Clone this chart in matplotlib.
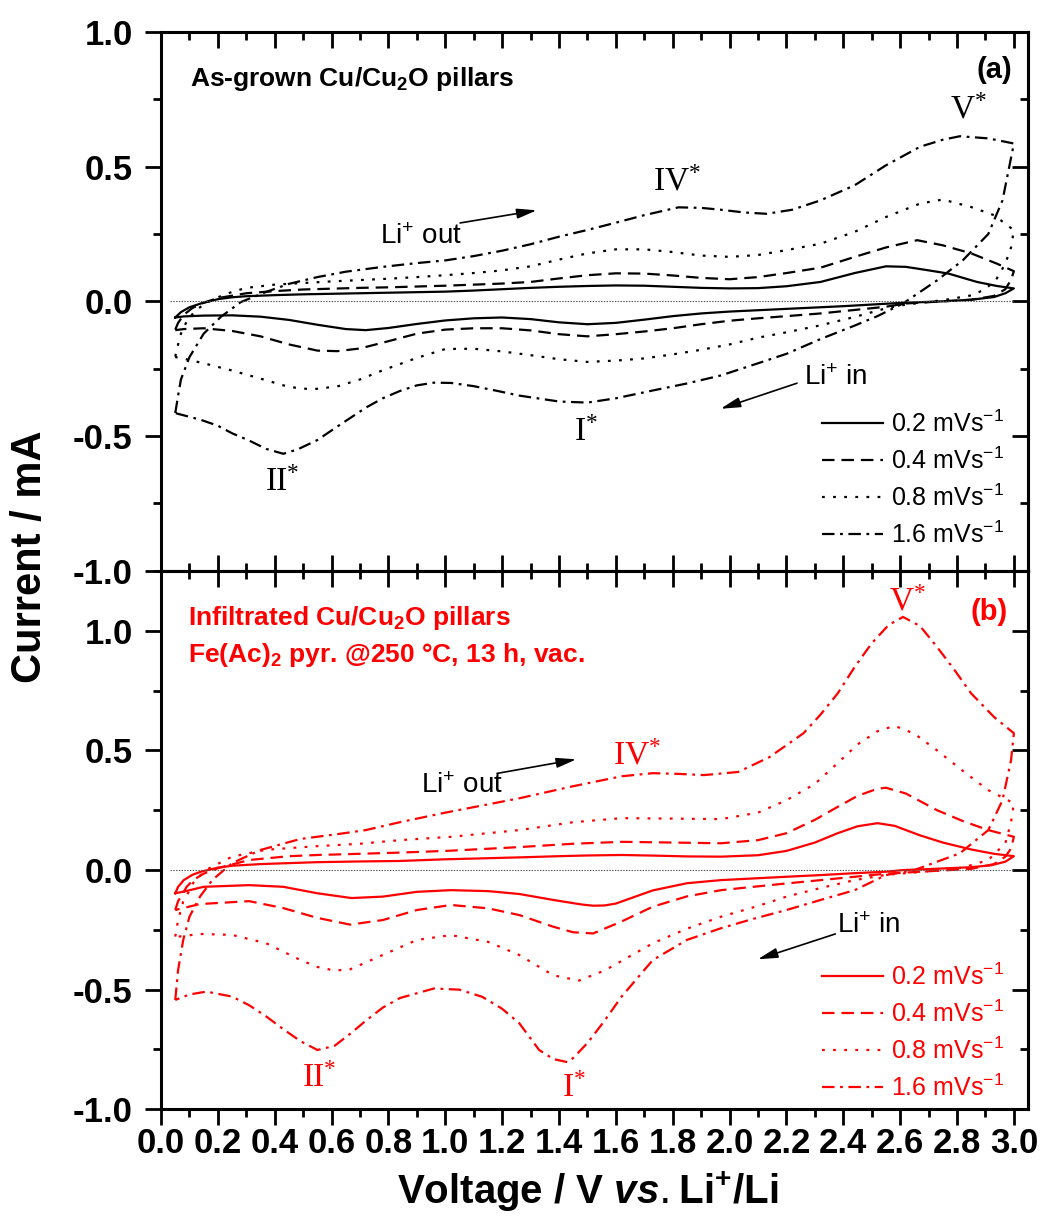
import matplotlib
matplotlib.use("Agg")
import matplotlib.pyplot as plt
from matplotlib.ticker import MultipleLocator

# Cyclic voltammograms, current in mA against voltage in V vs. Li+/Li.
# Every loop runs 0.05 V -> 3.0 V (Li+ out) and back to 0.05 V (Li+ in).
scan_rates = ["0.2", "0.4", "0.8", "1.6"]

# (a) as-grown Cu/Cu2O pillars
a02_v = [0.05, 0.07, 0.10, 0.14, 0.20, 0.25, 0.30, 0.40, 0.50, 0.60, 0.70, 0.80, 0.90, 1.00, 1.10, 1.20,
         1.30, 1.40, 1.50, 1.60, 1.70, 1.80, 1.90, 2.00, 2.10, 2.20, 2.32, 2.44, 2.55, 2.62, 2.70, 2.77,
         2.87, 2.94, 3.00,
         2.97, 2.93, 2.85, 2.75, 2.60, 2.50, 2.40, 2.30, 2.20, 2.10, 2.00, 1.90, 1.80, 1.70, 1.60, 1.50,
         1.40, 1.30, 1.20, 1.10, 1.00, 0.90, 0.80, 0.72, 0.65, 0.55, 0.45, 0.35, 0.25, 0.15, 0.08, 0.05]
a02_i = [-0.060, -0.040, -0.022, -0.008, 0.008, 0.015, 0.019, 0.023, 0.026, 0.028, 0.030, 0.032, 0.034,
         0.036, 0.040, 0.045, 0.050, 0.054, 0.057, 0.059, 0.058, 0.054, 0.050, 0.048, 0.049, 0.056, 0.072,
         0.105, 0.130, 0.128, 0.115, 0.103, 0.072, 0.057, 0.048,
         0.030, 0.016, 0.006, 0.000, -0.006, -0.012, -0.018, -0.023, -0.028, -0.033, -0.038, -0.045, -0.055,
         -0.068, -0.080, -0.085, -0.078, -0.066, -0.060, -0.063, -0.071, -0.084, -0.099, -0.107, -0.103,
         -0.087, -0.069, -0.057, -0.052, -0.053, -0.056, -0.060]

a04_v = [0.05, 0.06, 0.08, 0.11, 0.15, 0.20, 0.30, 0.40, 0.50, 0.60, 0.70, 0.80, 0.90, 1.00, 1.10, 1.20,
         1.30, 1.40, 1.50, 1.60, 1.70, 1.80, 1.90, 2.00, 2.10, 2.20, 2.32, 2.44, 2.55, 2.66, 2.75, 2.85,
         2.94, 3.00,
         2.99, 2.97, 2.93, 2.85, 2.75, 2.62, 2.55, 2.44, 2.32, 2.20, 2.10, 2.00, 1.90, 1.80, 1.70, 1.60,
         1.50, 1.40, 1.30, 1.20, 1.10, 1.00, 0.90, 0.80, 0.70, 0.62, 0.55, 0.45, 0.35, 0.25, 0.15, 0.08, 0.05]
a04_i = [-0.105, -0.080, -0.050, -0.025, -0.005, 0.012, 0.030, 0.038, 0.044, 0.047, 0.050, 0.052, 0.055,
         0.058, 0.062, 0.066, 0.072, 0.085, 0.097, 0.104, 0.103, 0.096, 0.087, 0.082, 0.090, 0.105, 0.125,
         0.165, 0.200, 0.227, 0.208, 0.178, 0.140, 0.112,
         0.080, 0.045, 0.020, 0.006, 0.000, -0.008, -0.020, -0.032, -0.045, -0.055, -0.063, -0.072, -0.085,
         -0.100, -0.112, -0.122, -0.130, -0.122, -0.108, -0.100, -0.100, -0.105, -0.120, -0.148, -0.175,
         -0.185, -0.183, -0.160, -0.130, -0.110, -0.100, -0.103, -0.107]

a08_v = [0.05, 0.06, 0.07, 0.09, 0.12, 0.16, 0.20, 0.25, 0.30, 0.40, 0.50, 0.60, 0.70, 0.80, 0.90, 1.00,
         1.10, 1.20, 1.30, 1.40, 1.50, 1.60, 1.70, 1.80, 1.90, 2.00, 2.10, 2.20, 2.32, 2.44, 2.55, 2.67,
         2.75, 2.85, 2.93, 3.00,
         2.99, 2.97, 2.94, 2.90, 2.85, 2.75, 2.62, 2.55, 2.44, 2.32, 2.20, 2.10, 2.00, 1.90, 1.80, 1.70,
         1.60, 1.50, 1.40, 1.30, 1.20, 1.10, 1.00, 0.90, 0.78, 0.70, 0.62, 0.53, 0.45, 0.35, 0.25, 0.15,
         0.08, 0.05]
a08_i = [-0.205, -0.160, -0.120, -0.075, -0.035, -0.005, 0.015, 0.035, 0.050, 0.062, 0.068, 0.074, 0.079,
         0.084, 0.090, 0.097, 0.105, 0.115, 0.130, 0.155, 0.178, 0.193, 0.193, 0.183, 0.170, 0.165, 0.172,
         0.190, 0.214, 0.258, 0.313, 0.363, 0.378, 0.350, 0.320, 0.264,
         0.200, 0.140, 0.085, 0.045, 0.022, 0.004, -0.012, -0.026, -0.058, -0.089, -0.115, -0.135, -0.160,
         -0.180, -0.197, -0.212, -0.220, -0.225, -0.215, -0.200, -0.186, -0.176, -0.177, -0.210, -0.256,
         -0.290, -0.316, -0.327, -0.318, -0.287, -0.257, -0.230, -0.213, -0.207]

a16_v = [0.05, 0.06, 0.07, 0.10, 0.15, 0.21, 0.28, 0.37, 0.45, 0.55, 0.65, 0.78, 0.90, 1.00, 1.10, 1.20,
         1.30, 1.40, 1.50, 1.60, 1.70, 1.82, 1.90, 1.97, 2.05, 2.13, 2.22, 2.32, 2.44, 2.55, 2.67, 2.75,
         2.81, 2.91, 3.00,
         2.98, 2.96, 2.91, 2.82, 2.73, 2.61, 2.52, 2.44, 2.32, 2.20, 2.10, 1.97, 1.85, 1.73, 1.60, 1.50,
         1.40, 1.26, 1.18, 1.10, 1.02, 0.96, 0.90, 0.84, 0.78, 0.72, 0.67, 0.62, 0.55, 0.48, 0.43, 0.37,
         0.31, 0.25, 0.20, 0.14, 0.05]
a16_i = [-0.415, -0.350, -0.290, -0.207, -0.120, -0.058, -0.003, 0.035, 0.065, 0.090, 0.110, 0.128, 0.142,
         0.152, 0.168, 0.188, 0.212, 0.240, 0.265, 0.292, 0.320, 0.349, 0.347, 0.340, 0.330, 0.325, 0.340,
         0.375, 0.431, 0.505, 0.574, 0.600, 0.613, 0.605, 0.586,
         0.480, 0.375, 0.250, 0.152, 0.078, -0.008, -0.055, -0.090, -0.140, -0.195, -0.230, -0.275, -0.305,
         -0.331, -0.360, -0.376, -0.372, -0.350, -0.332, -0.315, -0.303, -0.302, -0.312, -0.333, -0.360,
         -0.395, -0.430, -0.465, -0.515, -0.550, -0.566, -0.548, -0.517, -0.490, -0.462, -0.440, -0.415]

# (b) infiltrated pillars, Fe(Ac)2 pyrolysed
b02_v = [0.05, 0.06, 0.08, 0.11, 0.14, 0.20, 0.25, 0.35, 0.55, 0.70, 0.84, 1.00, 1.10, 1.26, 1.40, 1.50,
         1.62, 1.75, 1.85, 1.97, 2.10, 2.20, 2.30, 2.38, 2.45, 2.52, 2.58, 2.67, 2.75, 2.85, 2.93, 3.00,
         2.97, 2.92, 2.85, 2.70, 2.61, 2.55, 2.44, 2.32, 2.20, 2.10, 1.97, 1.85, 1.73, 1.64, 1.60, 1.56,
         1.52, 1.48, 1.38, 1.26, 1.15, 1.02, 0.90, 0.78, 0.67, 0.55, 0.43, 0.31, 0.15, 0.08, 0.05]
b02_i = [-0.097, -0.070, -0.042, -0.020, -0.007, 0.010, 0.018, 0.025, 0.033, 0.036, 0.038, 0.045, 0.048,
         0.053, 0.058, 0.061, 0.063, 0.060, 0.057, 0.056, 0.062, 0.080, 0.115, 0.154, 0.183, 0.196, 0.185,
         0.145, 0.115, 0.086, 0.068, 0.058,
         0.035, 0.020, 0.012, 0.004, 0.000, -0.007, -0.013, -0.021, -0.028, -0.034, -0.042, -0.055, -0.085,
         -0.123, -0.140, -0.148, -0.149, -0.144, -0.125, -0.100, -0.088, -0.084, -0.091, -0.111, -0.117,
         -0.097, -0.070, -0.063, -0.070, -0.090, -0.097]

b04_v = [0.05, 0.06, 0.074, 0.09, 0.113, 0.15, 0.20, 0.31, 0.45, 0.55, 0.70, 0.84, 1.02, 1.26, 1.45, 1.62,
         1.80, 1.97, 2.10, 2.20, 2.30, 2.38, 2.45, 2.52, 2.55, 2.62, 2.73, 2.82, 2.91, 3.00,
         2.99, 2.97, 2.93, 2.85, 2.70, 2.55, 2.44, 2.32, 2.20, 2.10, 1.97, 1.85, 1.73, 1.62, 1.52, 1.45,
         1.38, 1.26, 1.15, 1.02, 0.90, 0.78, 0.665, 0.55, 0.43, 0.31, 0.137, 0.05]
b04_i = [-0.167, -0.130, -0.104, -0.070, -0.042, -0.015, 0.008, 0.042, 0.058, 0.063, 0.068, 0.073, 0.081,
         0.096, 0.110, 0.118, 0.115, 0.112, 0.125, 0.154, 0.210, 0.264, 0.310, 0.340, 0.344, 0.320, 0.250,
         0.205, 0.167, 0.139,
         0.090, 0.056, 0.025, 0.005, -0.005, -0.015, -0.028, -0.042, -0.056, -0.068, -0.084, -0.110, -0.153,
         -0.215, -0.265, -0.260, -0.237, -0.188, -0.160, -0.146, -0.167, -0.209, -0.228, -0.200, -0.159,
         -0.130, -0.142, -0.167]

b08_v = [0.05, 0.06, 0.078, 0.10, 0.113, 0.14, 0.17, 0.25, 0.37, 0.55, 0.70, 0.84, 1.02, 1.26, 1.45, 1.62,
         1.80, 1.97, 2.10, 2.20, 2.30, 2.38, 2.45, 2.52, 2.58, 2.65, 2.73, 2.82, 2.91, 3.00,
         2.99, 2.97, 2.91, 2.82, 2.70, 2.55, 2.44, 2.32, 2.20, 2.10, 1.97, 1.85, 1.73, 1.62, 1.56, 1.47,
         1.38, 1.26, 1.15, 1.02, 0.90, 0.78, 0.665, 0.61, 0.55, 0.49, 0.37, 0.25, 0.137, 0.05]
b08_i = [-0.278, -0.209, -0.132, -0.085, -0.054, -0.020, 0.008, 0.056, 0.085, 0.100, 0.110, 0.125, 0.139,
         0.167, 0.200, 0.217, 0.215, 0.213, 0.240, 0.292, 0.360, 0.447, 0.525, 0.580, 0.603, 0.570, 0.500,
         0.415, 0.334, 0.279,
         0.200, 0.112, 0.042, 0.010, -0.005, -0.020, -0.042, -0.075, -0.111, -0.150, -0.195, -0.245, -0.306,
         -0.380, -0.420, -0.462, -0.440, -0.355, -0.300, -0.272, -0.292, -0.355, -0.415, -0.420, -0.405,
         -0.376, -0.306, -0.271, -0.267, -0.280]

b16_v = [0.05, 0.06, 0.078, 0.10, 0.137, 0.18, 0.25, 0.35, 0.49, 0.62, 0.72, 0.84, 1.00, 1.13, 1.26, 1.44,
         1.62, 1.73, 1.82, 1.91, 2.03, 2.14, 2.26, 2.32, 2.38, 2.44, 2.50, 2.56, 2.61, 2.67, 2.73, 2.79,
         2.85, 2.93, 3.00,
         2.99, 2.96, 2.91, 2.81, 2.65, 2.55, 2.44, 2.32, 2.20, 2.08, 1.97, 1.85, 1.73, 1.62, 1.56, 1.50,
         1.45, 1.43, 1.38, 1.33, 1.26, 1.20, 1.13, 1.05, 0.96, 0.84, 0.78, 0.72, 0.67, 0.61, 0.55, 0.49,
         0.43, 0.37, 0.31, 0.25, 0.16, 0.10, 0.05]
b16_i = [-0.543, -0.418, -0.292, -0.195, -0.111, -0.042, 0.029, 0.084, 0.130, 0.150, 0.167, 0.200, 0.240,
         0.270, 0.300, 0.348, 0.392, 0.405, 0.402, 0.397, 0.410, 0.472, 0.572, 0.650, 0.738, 0.849, 0.948,
         1.025, 1.058, 1.020, 0.932, 0.838, 0.738, 0.640, 0.572,
         0.459, 0.292, 0.167, 0.070, 0.000, -0.021, -0.084, -0.125, -0.167, -0.205, -0.243, -0.292, -0.376,
         -0.529, -0.630, -0.723, -0.785, -0.803, -0.790, -0.752, -0.640, -0.580, -0.530, -0.500, -0.495,
         -0.535, -0.575, -0.630, -0.680, -0.735, -0.752, -0.715, -0.665, -0.612, -0.565, -0.529, -0.508,
         -0.520, -0.543]

zero_v = [0.03, 3.0]
zero_i = [0.0, 0.0]

x_ticks = [0.0, 0.2, 0.4, 0.6, 0.8, 1.0, 1.2, 1.4, 1.6, 1.8, 2.0, 2.2, 2.4, 2.6, 2.8, 3.0]
x_tick_labels = ["0.0", "0.2", "0.4", "0.6", "0.8", "1.0", "1.2", "1.4", "1.6", "1.8",
                 "2.0", "2.2", "2.4", "2.6", "2.8", "3.0"]
y_ticks = [-1.0, -0.5, 0.0, 0.5, 1.0]
y_tick_labels = ["-1.0", "-0.5", "0.0", "0.5", "1.0"]

plt.rcParams['font.family'] = ['Liberation Sans', 'DejaVu Sans']
plt.rcParams['mathtext.fontset'] = 'custom'
plt.rcParams['mathtext.it'] = 'Liberation Sans:italic:bold'
plt.rcParams['mathtext.default'] = 'regular'
plt.rcParams['lines.scale_dashes'] = False
plt.rcParams['axes.unicode_minus'] = False

line_styles = ['-', (0, (9, 5)), (0, (2, 6)), (0, (9, 4, 2, 4))]
RED = '#ff0000'


def style_axes(ax, ylim, label_x):
    ax.set_xlim(0, 3.05)
    ax.set_ylim(*ylim)
    for sp in ax.spines.values():
        sp.set_linewidth(2.2)
    ax.set_yticks(y_ticks, labels=y_tick_labels, fontsize=25, fontweight='bold')
    ax.yaxis.set_minor_locator(MultipleLocator(0.25))
    ax.xaxis.set_minor_locator(MultipleLocator(0.1))
    ax.tick_params(axis='y', which='both', direction='out', left=True, right=False, width=2, pad=9)
    ax.tick_params(axis='y', which='major', length=11.5)
    ax.tick_params(axis='y', which='minor', length=6)
    sec = ax.secondary_yaxis('right')
    sec.set_yticks(y_ticks)
    sec.yaxis.set_minor_locator(MultipleLocator(0.25))
    sec.tick_params(axis='y', which='both', direction='in', width=2, labelright=False)
    sec.tick_params(axis='y', which='major', length=11.5)
    sec.tick_params(axis='y', which='minor', length=6)
    sec.spines['right'].set_linewidth(2.2)
    if label_x:
        ax.set_xticks(x_ticks, labels=x_tick_labels, fontsize=25, fontweight='bold')
        ax.tick_params(axis='x', which='both', direction='out', top=False, bottom=True, width=2, pad=1)
        secx = ax.secondary_xaxis('top')
        secx.set_xticks(x_ticks)
        secx.xaxis.set_minor_locator(MultipleLocator(0.1))
        secx.tick_params(axis='x', which='both', direction='in', width=2, labeltop=False)
        secx.tick_params(axis='x', which='major', length=11.5)
        secx.tick_params(axis='x', which='minor', length=6)
        secx.spines['top'].set_linewidth(2.2)
    else:
        ax.set_xticks(x_ticks)
        ax.tick_params(axis='x', which='both', direction='in', top=True, bottom=True,
                       labelbottom=False, width=2)
    ax.tick_params(axis='x', which='major', length=11.5)
    ax.tick_params(axis='x', which='minor', length=6)


def draw_loops(ax, loops, color):
    handles = []
    for (v, i), ls, rate in zip(loops, line_styles, scan_rates):
        h, = ax.plot(v, i, color=color, linestyle=ls, lw=1.6, label=rate + " mVs$^{-1}$")
        handles.append(h)
    ax.plot(zero_v, zero_i, color='#555555', lw=0.8, linestyle=(0, (1, 1)))
    return handles


def arrow(ax, tail, head):
    ax.annotate("", xy=head, xytext=tail,
                arrowprops=dict(arrowstyle="-|>,head_length=0.6,head_width=0.15", color='black',
                                lw=1.2, mutation_scale=20, shrinkA=0, shrinkB=0))


fig = plt.figure(figsize=(10.41, 12.17), dpi=100)
ax_a = fig.add_axes([0.1547, 0.5311, 0.8329, 0.4426])
ax_b = fig.add_axes([0.1547, 0.0885, 0.8329, 0.4423])

style_axes(ax_a, (-1.0, 1.0), label_x=False)
style_axes(ax_b, (-1.0, 1.25), label_x=True)

legend_kw = dict(loc='center left', frameon=False, prop={'size': 18}, handlelength=2.45,
                 handletextpad=0.3, labelspacing=0.42, borderpad=0, borderaxespad=0)

# --- panel (a) ---
h_a = draw_loops(ax_a, [(a02_v, a02_i), (a04_v, a04_i), (a08_v, a08_i), (a16_v, a16_i)], 'black')
ax_a.text(0.102, 0.80, "As-grown Cu/Cu$_2$O pillars", fontsize=19, fontweight='bold', va='baseline')
ax_a.text(2.994, 0.83, "(a)", fontsize=21, fontweight='bold', ha='right', va='baseline')
serif = ['Liberation Serif', 'DejaVu Serif']
ax_a.text(2.84, 0.68, "V$^{*}$", family=serif, fontsize=24, ha='center', va='baseline')
ax_a.text(1.816, 0.413, "IV$^{*}$", family=serif, fontsize=24, ha='center', va='baseline')
ax_a.text(0.426, -0.703, "II$^{*}$", family=serif, fontsize=24, ha='center', va='baseline')
ax_a.text(1.496, -0.517, "I$^{*}$", family=serif, fontsize=24, ha='center', va='baseline')
ax_a.text(0.771, 0.212, "Li$^{+}$ out", fontsize=20, va='baseline')
arrow(ax_a, (1.052, 0.291), (1.322, 0.338))
ax_a.text(2.26, -0.312, "Li$^{+}$ in", fontsize=20, va='baseline')
arrow(ax_a, (2.237, -0.304), (1.968, -0.399))
ax_a.legend(handles=h_a, bbox_to_anchor=(0.7624, 0.170), **legend_kw)

# --- panel (b) ---
h_b = draw_loops(ax_b, [(b02_v, b02_i), (b04_v, b04_i), (b08_v, b08_i), (b16_v, b16_i)], RED)
ax_b.text(0.095, 1.023, "Infiltrated Cu/Cu$_2$O pillars", fontsize=19, fontweight='bold',
          color=RED, va='baseline')
ax_b.text(0.095, 0.870, "Fe(Ac)$_2$ pyr. @250 °C, 13 h, vac.", fontsize=19, fontweight='bold',
          color=RED, va='baseline')
ax_b.text(2.98, 1.044, "(b)", fontsize=21, fontweight='bold', color=RED, ha='right', va='baseline')
ax_b.text(2.626, 1.086, "V$^{*}$", family=serif, fontsize=24, color=RED, ha='center', va='baseline')
ax_b.text(1.676, 0.443, "IV$^{*}$", family=serif, fontsize=24, color=RED, ha='center', va='baseline')
ax_b.text(0.556, -0.906, "II$^{*}$", family=serif, fontsize=24, color=RED, ha='center', va='baseline')
ax_b.text(1.454, -0.948, "I$^{*}$", family=serif, fontsize=24, color=RED, ha='center', va='baseline')
ax_b.text(0.914, 0.321, "Li$^{+}$ out", fontsize=20, va='baseline')
arrow(ax_b, (1.182, 0.404), (1.461, 0.463))
ax_b.text(2.378, -0.262, "Li$^{+}$ in", fontsize=20, va='baseline')
arrow(ax_b, (2.372, -0.267), (2.099, -0.373))
ax_b.legend(handles=h_b, bbox_to_anchor=(0.7624, 0.1435), labelcolor=RED, **legend_kw)

ax_b.set_xlabel(r"Voltage / V $\mathit{vs.}$Li$^{+}$/Li", fontsize=29, fontweight='bold', va='center')
ax_b.xaxis.set_label_coords(0.4925, -0.1536)
fig.text(30 / 1041, 1 - 557 / 1217, "Current / mA", rotation=90, ha='center', va='center',
         fontsize=30, fontweight='bold')

fig.savefig("out.png", dpi=100)
